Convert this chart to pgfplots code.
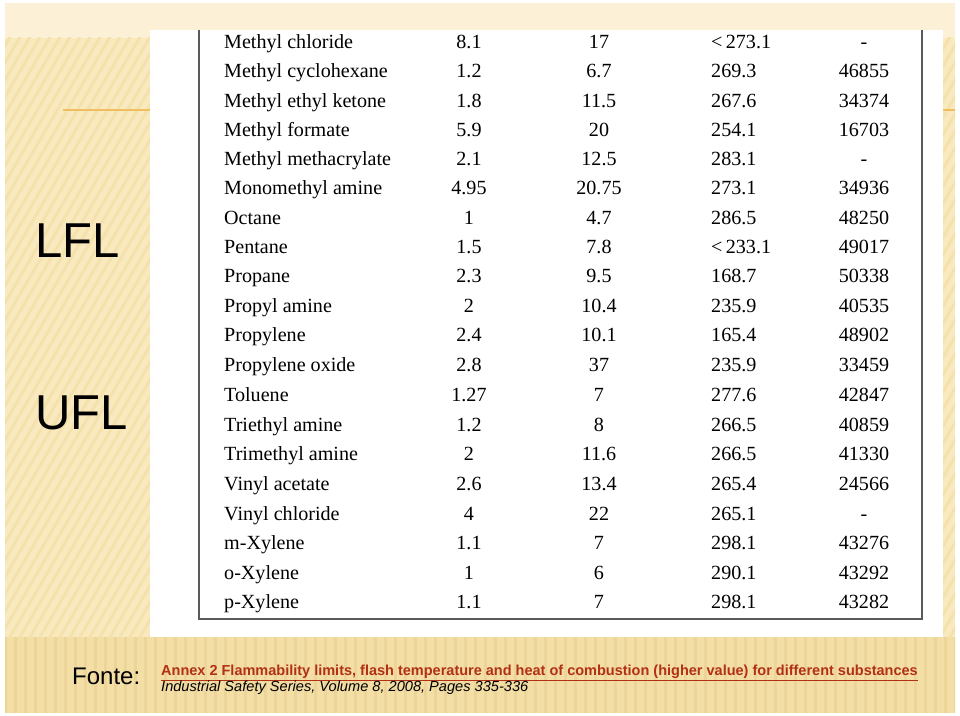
\documentclass[border=0pt]{standalone}
\usepackage{pgfplots}
\pgfplotsset{compat=1.18}
\usepackage{pgfplotstable}
\usepackage{fontspec}
\setmainfont{Liberation Serif}
\newfontfamily\arial{Liberation Sans}
\definecolor{bgtop}{RGB}{252,241,214}
\definecolor{bgmid}{RGB}{249,233,190}
\definecolor{stripe}{RGB}{245,225,172}
\definecolor{bgbot}{RGB}{243,222,166}
\definecolor{bstripe}{RGB}{237,213,154}
\definecolor{orangeline}{RGB}{240,190,95}
\definecolor{refred}{RGB}{178,48,20}
\definecolor{framegray}{RGB}{90,90,90}
\newcommand{\tabfont}{\fontsize{20.1bp}{21bp}\selectfont}

\pgfplotstableread[col sep=comma]{
yb,name,lfl,ufl,fp,hc
49,Methyl chloride,8.1,17,<\thinspace 273.1,-
78,Methyl cyclohexane,1.2,6.7,269.3,46855
108,Methyl ethyl ketone,1.8,11.5,267.6,34374
137,Methyl formate,5.9,20,254.1,16703
166,Methyl methacrylate,2.1,12.5,283.1,-
195,Monomethyl amine,4.95,20.75,273.1,34936
224,Octane,1,4.7,286.5,48250
253,Pentane,1.5,7.8,<\thinspace 233.1,49017
282,Propane,2.3,9.5,168.7,50338
312,Propyl amine,2,10.4,235.9,40535
341,Propylene,2.4,10.1,165.4,48902
371,Propylene oxide,2.8,37,235.9,33459
401,Toluene,1.27,7,277.6,42847
431,Triethyl amine,1.2,8,266.5,40859
460,Trimethyl amine,2,11.6,266.5,41330
490,Vinyl acetate,2.6,13.4,265.4,24566
520,Vinyl chloride,4,22,265.1,-
549,m-Xylene,1.1,7,298.1,43276
579,o-Xylene,1,6,290.1,43292
608,p-Xylene,1.1,7,298.1,43282
}\flamtable

\begin{document}
\begin{tikzpicture}
\begin{scope}[x=1bp,y=-1bp,shift={(0,716bp)}]
  \fill[white] (0,0) rectangle (960,716);
  \fill[bgmid] (5,3) rectangle (955,713);
  \fill[bgtop] (5,3) rectangle (955,38);
  \begin{scope}
    \clip (5,38) rectangle (955,637);
    \foreach \a in {-400,-390,...,960}
      \draw[stripe, line width=3bp] (\a,637) -- (\a+350,37);
  \end{scope}
  \fill[bgbot] (5,637) rectangle (955,713);
  \begin{scope}
    \clip (5,637) rectangle (955,713);
    \foreach \a in {5,15,...,955}
      \draw[bstripe, line width=3bp] (\a,637) -- (\a,713);
  \end{scope}
  \draw[orangeline, line width=2bp] (63,110) -- (150,110);
  \draw[orangeline, line width=2bp] (943,110) -- (955,110);
  \fill[white] (150,30) rectangle (943,637);
  \draw[framegray, line width=1.2bp] (199,30) -- (199,619) -- (922,619) -- (922,30);
  \node[anchor=base west, inner sep=0pt, font=\arial\fontsize{49bp}{52bp}\selectfont] at (35,258) {LFL};
  \node[anchor=base west, inner sep=0pt, font=\arial\fontsize{49bp}{52bp}\selectfont] at (35,430) {UFL};
  \node[anchor=base west, inner sep=0pt, font=\arial\fontsize{24bp}{26bp}\selectfont] at (72,685) {Fonte:};
  \node[anchor=base west, inner sep=0pt, text=refred, font=\arial\bfseries\fontsize{14.5bp}{16bp}\selectfont] at (161,676) {\underline{Annex 2 Flammability limits, flash temperature and heat of combustion (higher value) for different substances}};
  \node[anchor=base west, inner sep=0pt, font=\arial\itshape\fontsize{14.6bp}{16bp}\selectfont] at (161,692) {Industrial Safety Series, Volume 8, 2008, Pages 335-336};
\end{scope}
\begin{axis}[at={(0,0)}, anchor=south west, width=960bp, height=716bp, scale only axis,
  xmin=0, xmax=960, ymin=0, ymax=716, y dir=reverse, axis lines=none, clip=false,
  point meta=explicit symbolic, nodes near coords]
\addplot[draw=none, mark=none, nodes near coords style={anchor=base west, inner sep=0pt, font=\tabfont}]
  table[x expr=224, y=yb, meta=name]{\flamtable};
\addplot[draw=none, mark=none, nodes near coords style={anchor=base, inner sep=0pt, font=\tabfont}]
  table[x expr=469, y=yb, meta=lfl]{\flamtable};
\addplot[draw=none, mark=none, nodes near coords style={anchor=base, inner sep=0pt, font=\tabfont}]
  table[x expr=599, y=yb, meta=ufl]{\flamtable};
\addplot[draw=none, mark=none, nodes near coords style={anchor=base west, inner sep=0pt, font=\tabfont}]
  table[x expr=711, y=yb, meta=fp]{\flamtable};
\addplot[draw=none, mark=none, nodes near coords style={anchor=base, inner sep=0pt, font=\tabfont}]
  table[x expr=864, y=yb, meta=hc]{\flamtable};
\end{axis}
\end{tikzpicture}
\end{document}
